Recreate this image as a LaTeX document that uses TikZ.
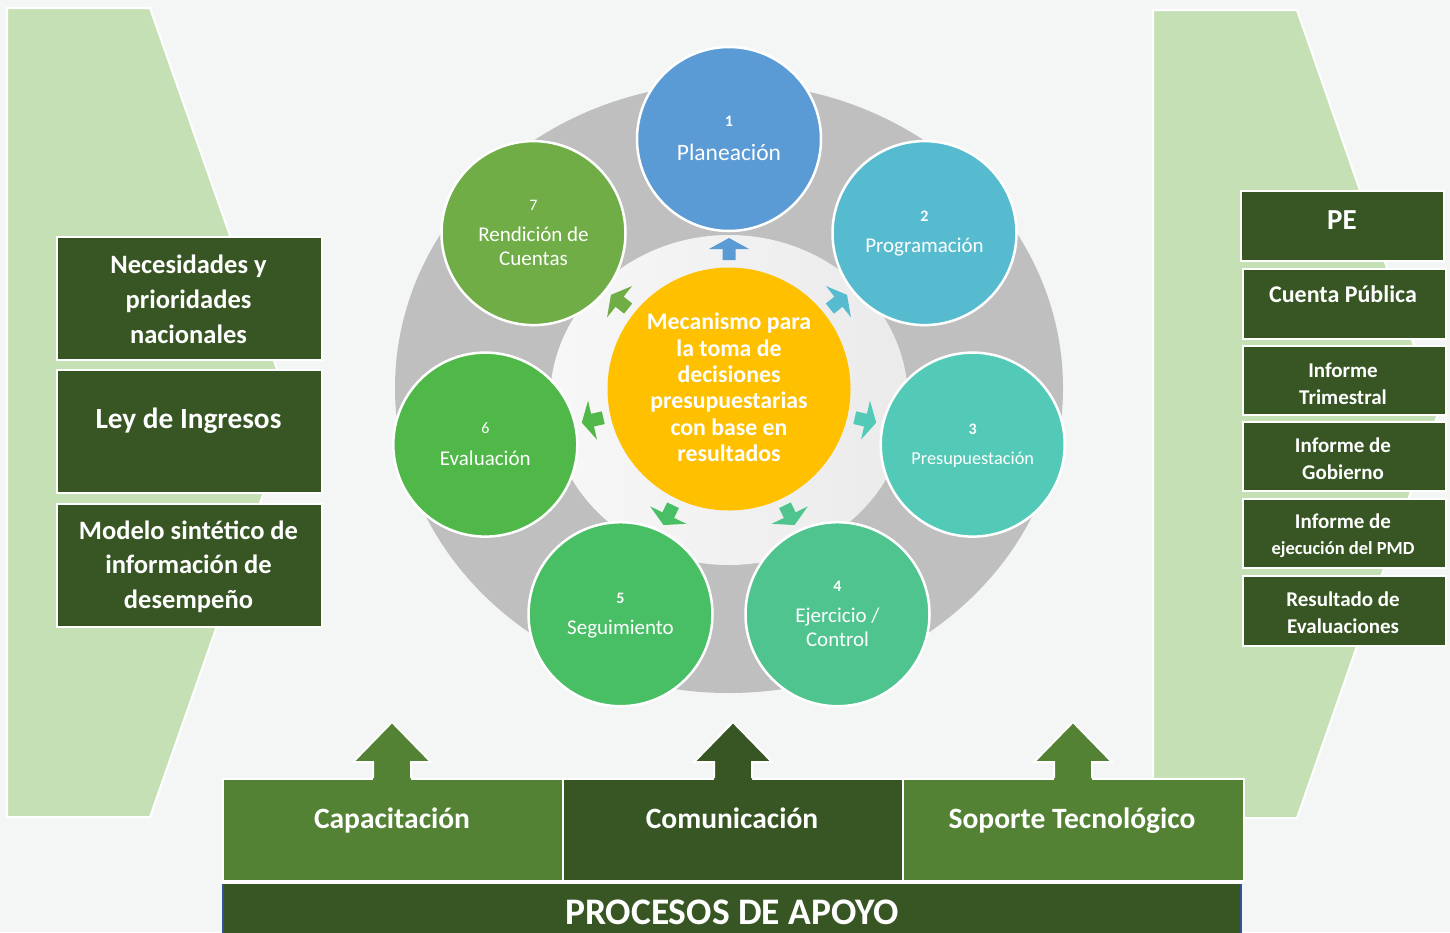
\documentclass[tikz,border=0pt]{standalone}
\usepackage{fontspec}
\setmainfont{Carlito}
\newcommand\fs[2]{\fontsize{#1}{#2}\selectfont}
\definecolor{bgc}{HTML}{F4F5F5}
\definecolor{lgreen}{HTML}{C5E0B4}
\definecolor{dgreen}{HTML}{375623}
\definecolor{mgreen}{HTML}{548235}
\definecolor{ringgray}{HTML}{BFBFBF}
\definecolor{edgeblue}{HTML}{2F5597}
\definecolor{cA}{HTML}{5B9BD5}
\definecolor{cB}{HTML}{56BBCF}
\definecolor{cC}{HTML}{53CAB8}
\definecolor{cD}{HTML}{4FC48E}
\definecolor{cE}{HTML}{49BF65}
\definecolor{cF}{HTML}{50B848}
\definecolor{cG}{HTML}{70AD47}
\definecolor{core}{HTML}{FFC000}
\newcommand\radarrow[2]{%
  \begin{scope}[shift={(729,389)}, rotate=#1]
    \fill[#2] (129,-6.5) -- (140,-6.5) -- (140,-20) -- (151,0) -- (140,20) -- (140,6.5) -- (129,6.5) -- cycle;
  \end{scope}}
\newcommand\boxarrow[2]{%
  \fill[#2] (#1-19,781) -- (#1-19,762) -- (#1-39,762) -- (#1,722) -- (#1+39,762) -- (#1+19,762) -- (#1+19,781) -- cycle;
  \draw[white, line width=2pt, line join=miter] (#1-19,778) -- (#1-19,762) -- (#1-39,762) -- (#1,722) -- (#1+39,762) -- (#1+19,762) -- (#1+19,778);}
\begin{document}
\begin{tikzpicture}[x=1pt, y=-1pt,
  panel/.style={fill=lgreen, draw=white, line width=2pt},
  gbox/.style={fill=dgreen, draw=white, line width=2pt, anchor=north west, inner sep=0pt},
  mbox/.style={fill=mgreen, draw=white, line width=2pt, anchor=north west, inner sep=0pt},
  wtxt/.style={text=white, anchor=base, align=center, inner sep=0pt},
  circ/.style={circle, minimum size=184pt, inner sep=0pt, draw=white, line width=2.5pt},
  numb/.style={text=white, anchor=base, inner sep=0pt, font=\fs{16}{19}},
  lab/.style={text=white, anchor=base, align=center, inner sep=0pt, font=\fs{21}{23.5}}
]
\useasboundingbox (0,0) rectangle (1450,932);
\fill[bgc] (0,0) rectangle (1450,932);

% side panels
\draw[panel] (7,8) -- (150,8) -- (292,412) -- (150,817) -- (7,817) -- cycle;
\draw[panel] (1153,10) -- (1297,10) -- (1438,414) -- (1297,818) -- (1153,818) -- cycle;

% left boxes (multi-line text nodes: anchor base = last line's baseline)
\node[gbox, minimum width=265pt, minimum height=123pt] (nec) at (56,236) {};
\node[gbox, minimum width=265pt, minimum height=123pt] (ley) at (56,369) {};
\node[gbox, minimum width=265pt, minimum height=123pt] (mod) at (56,503) {};
\node[wtxt, font=\fs{26.5}{35}\bfseries] (necT) at (188.5,343) {Necesidades y\\prioridades\\nacionales};
\node[wtxt, font=\fs{29.3}{34}\bfseries] (leyT) at (188.5,428) {Ley de Ingresos};
\node[wtxt, font=\fs{26.5}{34.5}\bfseries] (modT) at (188.5,608) {Modelo sintético de\\información de\\desempeño};

% right boxes
\node[gbox, minimum width=203pt, minimum height=70pt] (pe) at (1240,190) {};
\node[gbox, minimum width=203pt, minimum height=70pt] (cta) at (1242,268) {};
\node[gbox, minimum width=203pt, minimum height=69pt] (tri) at (1242,345) {};
\node[gbox, minimum width=203pt, minimum height=69pt] (gob) at (1242,421) {};
\node[gbox, minimum width=203pt, minimum height=69pt] (pmd) at (1242,498) {};
\node[gbox, minimum width=203pt, minimum height=70pt] (res) at (1242,575) {};
\node[wtxt, font=\fs{29}{34}\bfseries] (peT) at (1342,229) {PE};
\node[wtxt, font=\fs{24}{28}\bfseries] (ctaT) at (1343,302) {Cuenta Pública};
\node[wtxt, font=\fs{21}{27}\bfseries] (triT) at (1343,404) {Informe\\Trimestral};
\node[wtxt, font=\fs{21}{27}\bfseries] (gobT) at (1343,479) {Informe de\\Gobierno};
\node[wtxt, font=\fs{21}{27}\bfseries] (pmdT) at (1343,528) {Informe de};
\node[wtxt, font=\fs{18.5}{22}\bfseries] (pmdU) at (1343,554) {ejecución del PMD};
\node[wtxt, font=\fs{21}{27}\bfseries] (resT) at (1343,633) {Resultado de\\Evaluaciones};

% central ring
\fill[ringgray] (729,388) ellipse [x radius=334, y radius=305];
\shade[left color=white!97!black, right color=white!92!black] (729,400) ellipse [x radius=179, y radius=165];

% radial arrows
\radarrow{90}{cA}
\radarrow{38.571}{cB}
\radarrow{-12.857}{cC}
\radarrow{-64.286}{cD}
\radarrow{-115.714}{cE}
\radarrow{-167.143}{cF}
\radarrow{141.429}{cG}

% core
\node[circle, fill=core, minimum size=243pt, inner sep=0pt] (cen) at (729,389) {};
\node[text=white, align=center, inner sep=0pt, font=\fs{23.8}{26.4}\bfseries] (cenT) at (729,387.5)
  {Mecanismo para\\la toma de\\decisiones\\presupuestarias\\con base en\\resultados};

% stage circles
\node[circ, fill=cA] (s1) at (729,139) {};
\node[circ, fill=cB] (s2) at (924.5,233.1) {};
\node[circ, fill=cC] (s3) at (972.7,444.6) {};
\node[circ, fill=cD] (s4) at (837.5,614.2) {};
\node[circ, fill=cE] (s5) at (620.5,614.2) {};
\node[circ, fill=cF] (s6) at (485.3,444.6) {};
\node[circ, fill=cG] (s7) at (533.5,233.1) {};

\node[numb, font=\fs{16}{19}\bfseries] (n1) at (729,126) {1};
\node[lab, font=\fs{23.5}{26}] (l1) at (729,160) {Planeación};
\node[numb, font=\fs{16}{19}\bfseries] (n2) at (924.5,221) {2};
\node[lab] (l2) at (924.5,252) {Programación};
\node[numb, font=\fs{16}{19}\bfseries] (n3) at (972.7,434) {3};
\node[lab, font=\fs{18.3}{22}] (l3) at (972.7,464) {Presupuestación};
\node[numb, font=\fs{16}{19}\bfseries] (n4) at (837.5,591) {4};
\node[lab] (l4) at (837.5,646) {Ejercicio /\\Control};
\node[numb, font=\fs{16}{19}\bfseries] (n5) at (620.5,603) {5};
\node[lab] (l5) at (620.5,634) {Seguimiento};
\node[numb] (n6) at (485.3,433) {6};
\node[lab] (l6) at (485.3,465) {Evaluación};
\node[numb] (n7) at (533.5,210) {7};
\node[lab] (l7) at (533.5,265) {Rendición de\\Cuentas};

% bottom boxes
\node[mbox, minimum width=340pt, minimum height=102pt] (cap) at (222,778) {};
\node[gbox, minimum width=340pt, minimum height=102pt] (com) at (562,778) {};
\node[mbox, minimum width=341pt, minimum height=102pt] (sop) at (902,778) {};
\boxarrow{392}{mgreen}
\boxarrow{733}{dgreen}
\boxarrow{1073}{mgreen}
\node[wtxt, font=\fs{29.5}{34}\bfseries] (capT) at (392,828) {Capacitación};
\node[wtxt, font=\fs{29.5}{34}\bfseries] (comT) at (732,828) {Comunicación};
\node[wtxt, font=\fs{29.5}{34}\bfseries] (sopT) at (1072,828) {Soporte Tecnológico};

\fill[dgreen] (222,883) rectangle (1242,934);
\draw[white, line width=2pt] (221,882.5) -- (1243,882.5);
\draw[edgeblue, line width=2pt] (223,884) -- (223,934);
\draw[edgeblue, line width=2pt] (1241,884) -- (1241,934);
\node[wtxt, font=\fs{37.5}{40}\bfseries] (proc) at (732,924) {PROCESOS DE APOYO};
\end{tikzpicture}
\end{document}
